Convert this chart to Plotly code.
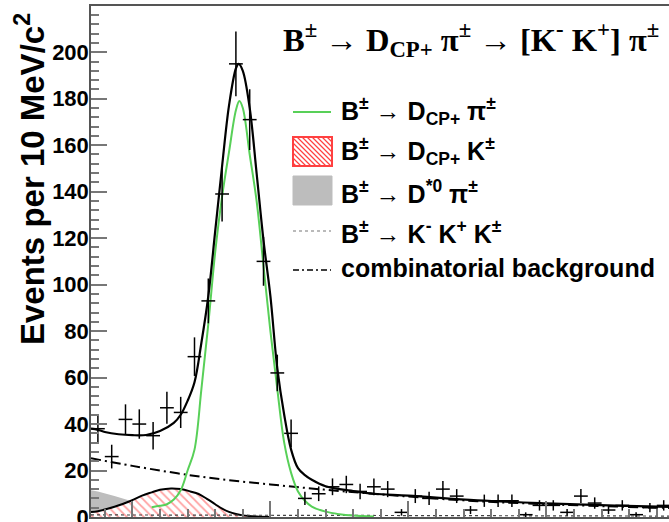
import numpy as np
import plotly.graph_objects as go

# ---------------- data ----------------
bin_centers = [5175, 5185, 5195, 5205, 5215, 5225, 5235, 5245, 5255, 5265,
               5275, 5285, 5295, 5305, 5315, 5325, 5335, 5345, 5355, 5365,
               5375, 5385, 5395, 5405, 5415, 5425, 5435, 5445, 5455, 5465,
               5475, 5485, 5495, 5505, 5515, 5525, 5535, 5545, 5555, 5565,
               5575, 5585]
counts = [38, 26, 42, 40, 35, 47, 45, 69, 93, 139,
          195, 171, 110, 62, 36, 8, 10, 13, 14, 11,
          13, 12, 2, 9, 8, 12, 9, 3, 7, 7,
          7, 1, 5, 5, 2, 9, 6, 3, 5, 1,
          4, 5]

total_x = [5170, 5175, 5180, 5190, 5200, 5210, 5220, 5230, 5235, 5240, 5245, 5250,
           5255, 5260, 5265, 5270, 5275, 5277, 5280, 5285, 5290, 5295, 5300, 5305,
           5310, 5315, 5320, 5325, 5330, 5340, 5350, 5360, 5375, 5400, 5450, 5500,
           5550, 5590]
total_y = [38, 37.5, 36.6, 35.6, 35.2, 35.3, 37, 40.5, 44, 50, 58, 75,
           95, 123, 151, 177, 193, 195, 192, 176, 148, 119, 95, 64,
           44, 29, 21, 18, 16, 13.2, 12, 11.2, 10, 9.2, 7.2, 5.9,
           4.9, 4.3]

signal_x = [5214, 5220, 5225, 5230, 5235, 5240, 5245, 5250, 5255, 5260, 5265, 5270,
            5275, 5277.5, 5280, 5285, 5290, 5295, 5300, 5305, 5310, 5315, 5320,
            5325, 5330, 5340, 5350, 5360, 5375]
signal_y = [4.2, 4.8, 5.5, 7.5, 11.5, 20, 29, 55, 83, 114, 138, 157,
            175, 179, 176, 156, 136, 108, 80, 55, 32, 19, 11,
            7, 4.5, 2.3, 1.2, 0.6, 0.2]

dk_x = [5170, 5175, 5187, 5199, 5207, 5214, 5220, 5228, 5235, 5242, 5248, 5254,
        5260, 5265, 5270, 5275, 5280, 5290, 5300]
dk_y = [2.1, 2.5, 4.4, 7, 9.2, 10.6, 11.7, 12.3, 12, 11, 9.9, 7.8,
        5.5, 3.6, 2.2, 1.3, 0.7, 0.2, 0]

dstar_x = [5170, 5175, 5187, 5199, 5210, 5220, 5230, 5240]
dstar_y = [11.5, 11, 9, 7, 5, 3, 1.2, 0]

kkk_x = [5170, 5300, 5450, 5590]
kkk_y = [0.9, 0.7, 0.5, 0.4]

comb_x = [5170, 5200, 5250, 5300, 5350, 5400, 5450, 5500, 5550, 5590]
comb_y = [25.3, 22, 17.3, 14, 11.2, 8.8, 6.8, 5.5, 4.5, 3.9]

# ---------------- layout helpers ----------------
W, H = 669, 522
ML, MR, MT, MB = 91, 0, 6, 5
PW, PH = W - ML - MR, H - MT - MB


def px(x):
    return (x - ML) / PW


def py(y):
    return (H - MB - y) / PH


GREEN = "#58d058"
RED = "#ff4040"

fig = go.Figure()

fig.add_trace(go.Scatter(x=dstar_x, y=dstar_y, mode="lines", fill="tozeroy",
                         fillcolor="#bdbdbd", line=dict(width=0, color="#bdbdbd"),
                         showlegend=False, hoverinfo="skip"))
fig.add_trace(go.Scatter(x=dk_x, y=dk_y, mode="lines", fill="tozeroy",
                         line=dict(color="black", width=2, shape="spline"),
                         fillpattern=dict(shape="\\", fgcolor=RED, bgcolor="white",
                                          size=6, solidity=0.3),
                         showlegend=False, hoverinfo="skip"))
fig.add_trace(go.Scatter(x=kkk_x, y=kkk_y, mode="lines",
                         line=dict(color="#444", width=1.2, dash="dot"),
                         showlegend=False, hoverinfo="skip"))
fig.add_trace(go.Scatter(x=comb_x, y=comb_y, mode="lines",
                         line=dict(color="black", width=2, dash="10px,4px,2px,4px", shape="spline"),
                         showlegend=False, hoverinfo="skip"))
fig.add_trace(go.Scatter(x=signal_x, y=signal_y, mode="lines",
                         line=dict(color=GREEN, width=2, shape="spline"),
                         showlegend=False, hoverinfo="skip"))
fig.add_trace(go.Scatter(x=total_x, y=total_y, mode="lines",
                         line=dict(color="black", width=2.2, shape="spline"),
                         showlegend=False, hoverinfo="skip"))
fig.add_trace(go.Scatter(x=bin_centers, y=counts, mode="markers",
                         marker=dict(size=1, color="black"),
                         error_y=dict(type="data", array=list(np.sqrt(counts)),
                                      thickness=1.5, width=0, color="black"),
                         error_x=dict(type="constant", value=5, thickness=1.5,
                                      width=0, color="black"),
                         showlegend=False, hoverinfo="skip"))

# ---------------- manual legend ----------------
shapes = []
annotations = []
sx0, sx1 = 293, 331
leg_font = dict(family="Liberation Sans", size=25, color="black")

# green line
shapes.append(dict(type="line", xref="paper", yref="paper",
                   x0=px(sx0), x1=px(sx1), y0=py(112), y1=py(112),
                   line=dict(color=GREEN, width=2)))
# red hatched box
bx0, bx1, by0, by1 = 293, 332, 137, 166
segs = []
k = by0 - bx1
while k <= by1 - bx0:
    xa = max(bx0, by0 - k)
    xb = min(bx1, by1 - k)
    if xb > xa:
        segs.append("M{:.4f},{:.4f} L{:.4f},{:.4f}".format(px(xa), py(xa + k), px(xb), py(xb + k)))
    k += 5
shapes.append(dict(type="rect", xref="paper", yref="paper",
                   x0=px(bx0), x1=px(bx1), y0=py(by1), y1=py(by0),
                   fillcolor="white", line=dict(color=RED, width=2)))
shapes.append(dict(type="path", xref="paper", yref="paper", path=" ".join(segs),
                   line=dict(color=RED, width=1.2)))
# gray box
shapes.append(dict(type="rect", xref="paper", yref="paper",
                   x0=px(293), x1=px(332), y0=py(205), y1=py(176),
                   fillcolor="#bdbdbd", line=dict(color="#bdbdbd", width=1)))
# dotted
shapes.append(dict(type="line", xref="paper", yref="paper",
                   x0=px(sx0), x1=px(sx1), y0=py(231), y1=py(231),
                   line=dict(color="#777", width=1.2, dash="dot")))
# dash-dot
shapes.append(dict(type="line", xref="paper", yref="paper",
                   x0=px(sx0), x1=px(sx1), y0=py(270), y1=py(270),
                   line=dict(color="black", width=1.5, dash="6px,3px,2px,3px")))

legend_texts = [
    "<b>B<sup>±</sup> → D<sub>CP+</sub> π<sup>±</sup></b>",
    "<b>B<sup>±</sup> → D<sub>CP+</sub> K<sup>±</sup></b>",
    "<b>B<sup>±</sup> → D<sup>*0</sup> π<sup>±</sup></b>",
    "<b>B<sup>±</sup> → K<sup>-</sup> K<sup>+</sup> K<sup>±</sup></b>",
    "<b>combinatorial background</b>",
]
legend_y = [111, 151, 192, 232, 268]
for t, yy in zip(legend_texts, legend_y):
    annotations.append(dict(text=t, xref="paper", yref="paper", x=px(339), y=py(yy),
                            xanchor="left", yanchor="middle", showarrow=False,
                            font=leg_font))

# title
annotations.append(dict(
    text="<b>B<sup>±</sup> → D<sub>CP+</sub> π<sup>±</sup> → [K<sup>-</sup> K<sup>+</sup>] π<sup>±</sup></b>",
    xref="paper", yref="paper", x=px(281), y=py(39), xanchor="left", yanchor="middle",
    showarrow=False, font=dict(family="Liberation Serif", size=32.5, color="black")))

# y axis title
annotations.append(dict(
    text="<b>Events per 10 MeV/c<sup>2</sup></b>", textangle=-90,
    xref="paper", yref="paper", x=px(30), y=py(179), xanchor="center", yanchor="middle",
    showarrow=False, font=dict(family="Liberation Sans", size=33, color="black")))

fig.update_layout(
    width=W, height=H,
    margin=dict(l=ML, r=MR, t=MT, b=MB, pad=0, autoexpand=False),
    paper_bgcolor="white", plot_bgcolor="white",
    showlegend=False,
    shapes=shapes, annotations=annotations,
)
fig.update_xaxes(range=[5170, 5170 + PW / 1.38], showgrid=False, zeroline=False,
                 automargin=False,
                 showline=True, linecolor="#555", linewidth=1.5, mirror=True,
                 ticks="inside", ticklen=16, tickwidth=1.5, tickcolor="#777",
                 tick0=5000, dtick=100, showticklabels=False,
                 minor=dict(ticks="inside", dtick=20, ticklen=8, tickwidth=1.5, tickcolor="#777"))
fig.update_yaxes(range=[0, 219.9], showgrid=False, zeroline=False,
                 automargin=False,
                 showline=True, linecolor="#555", linewidth=1.5,
                 ticks="inside", ticklen=16, tickwidth=1.5, tickcolor="#777",
                 tick0=0, dtick=20, ticklabelstandoff=-4, ticklabeloverflow="allow",
                 tickfont=dict(family="Liberation Sans", size=22, color="black", weight="bold"),
                 minor=dict(ticks="inside", dtick=4, ticklen=8, tickwidth=1.5, tickcolor="#777"))

fig.write_html("out.html", config={"displayModeBar": False},
               post_script="document.body.style.margin='0';document.body.style.padding='0';")
